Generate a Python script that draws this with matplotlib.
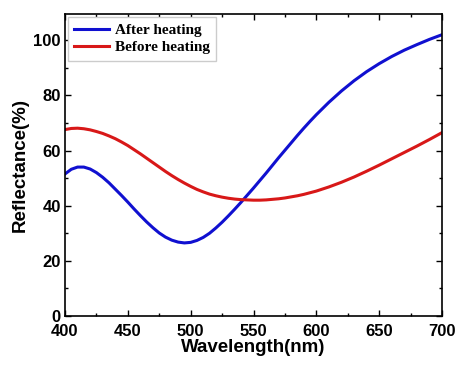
import matplotlib
matplotlib.use("Agg")
import matplotlib.pyplot as plt
from matplotlib.ticker import MultipleLocator

# wavelength (nm) and reflectance (%)
wavelength = [400, 405, 410, 415, 420, 425, 430, 435, 440, 445, 450, 455, 460, 465,
              470, 475, 480, 485, 490, 495, 500, 505, 510, 515, 520, 525, 530, 535,
              540, 545, 550, 555, 560, 565, 570, 575, 580, 585, 590, 595, 600, 610,
              620, 630, 640, 650, 660, 670, 680, 690, 700]
after_heating = [51.5, 53.2, 54.0, 54.0, 53.3, 52.0, 50.3, 48.3, 46.0, 43.7, 41.3, 38.8,
                 36.4, 34.1, 32.0, 30.1, 28.6, 27.5, 26.8, 26.5, 26.7, 27.4, 28.5, 30.0,
                 31.9, 34.0, 36.3, 38.7, 41.2, 43.8, 46.4, 49.1, 51.8, 54.6, 57.4, 60.1,
                 62.8, 65.5, 68.1, 70.6, 73.0, 77.5, 81.6, 85.3, 88.6, 91.5, 94.1, 96.4,
                 98.4, 100.3, 102.0]
before_heating = [67.6, 68.0, 68.1, 67.9, 67.5, 66.9, 66.2, 65.3, 64.3, 63.1, 61.8, 60.3,
                  58.8, 57.2, 55.6, 54.0, 52.4, 50.9, 49.5, 48.2, 47.0, 45.9, 45.0, 44.2,
                  43.6, 43.1, 42.7, 42.4, 42.2, 42.1, 42.0, 42.0, 42.1, 42.3, 42.5, 42.8,
                  43.2, 43.6, 44.1, 44.7, 45.3, 46.8, 48.5, 50.4, 52.5, 54.7, 57.0, 59.3,
                  61.6, 64.0, 66.5]

fig = plt.figure(figsize=(4.59, 3.66), dpi=100)
ax = fig.add_axes([0.1416, 0.1366, 0.8214, 0.8251])

ax.plot(wavelength, after_heating, color="#1010d0", lw=2.2, label="After heating")
ax.plot(wavelength, before_heating, color="#d81818", lw=2.2, label="Before heating")

ax.set_xlim(400, 700)
ax.set_ylim(0, 109.5)
ax.xaxis.set_major_locator(MultipleLocator(50))
ax.xaxis.set_minor_locator(MultipleLocator(25))
ax.yaxis.set_major_locator(MultipleLocator(20))
ax.yaxis.set_minor_locator(MultipleLocator(10))
ax.tick_params(which="both", direction="in", top=True, right=True, width=1)
ax.tick_params(which="major", length=4)
ax.tick_params(which="minor", length=2.5)
ax.tick_params(axis="x", pad=6)
ax.tick_params(axis="y", pad=3)
for s in ax.spines.values():
    s.set_linewidth(1.2)

for lbl in ax.get_xticklabels() + ax.get_yticklabels():
    lbl.set_fontfamily("Liberation Sans")
    lbl.set_fontweight("bold")
    lbl.set_fontsize(12)

ax.set_xlabel("Wavelength(nm)", fontfamily="Liberation Sans", fontweight="bold",
              fontsize=13.5, labelpad=0)
ax.set_ylabel("Reflectance(%)", fontfamily="Liberation Sans", fontweight="bold",
              fontsize=13.5, labelpad=3)

leg = ax.legend(loc="upper left", prop={"family": "Liberation Serif", "weight": "bold", "size": 11},
                handlelength=2.3, handletextpad=0.35, borderaxespad=0.2, labelspacing=0.25,
                fancybox=False, edgecolor="#cccccc", framealpha=1)

fig.savefig("out.png", dpi=100)
